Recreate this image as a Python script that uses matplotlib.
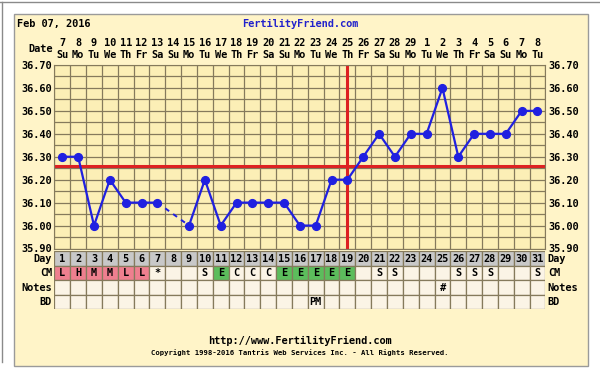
import matplotlib.pyplot as plt
import matplotlib.transforms as mtransforms
from matplotlib.patches import Rectangle
from matplotlib.lines import Line2D
import numpy as np

# chart data
days = list(range(1, 32))
dates = [7, 8, 9, 10, 11, 12, 13, 14, 15, 16, 17, 18, 19, 20, 21, 22, 23, 24, 25,
         26, 27, 28, 29, 1, 2, 3, 4, 5, 6, 7, 8]
weekdays = ["Su", "Mo", "Tu", "We", "Th", "Fr", "Sa"] * 4 + ["Su", "Mo", "Tu"]
temps = [36.30, 36.30, 36.00, 36.20, 36.10, 36.10, 36.10, np.nan, 36.00, 36.20,
         36.00, 36.10, 36.10, 36.10, 36.10, 36.00, 36.00, 36.20, 36.20, 36.30,
         36.40, 36.30, 36.40, 36.40, 36.60, 36.30, 36.40, 36.40, 36.40, 36.50, 36.50]
coverline = 36.26
ovulation_day = 19
cm = ["L", "H", "M", "M", "L", "L", "*", "", "", "S", "E", "C", "C", "C", "E", "E",
      "E", "E", "E", "", "S", "S", "", "", "", "S", "S", "S", "", "", "S"]
notes = [""] * 24 + ["#"] + [""] * 6
bd = [""] * 16 + ["PM"] + [""] * 14
row_names = ["Day", "CM", "Notes", "BD"]

plt.rcParams["font.family"] = "DejaVu Sans Mono"
plt.rcParams["font.weight"] = "bold"

W, H = 600, 371
fx = lambda x: x / W
fy = lambda y: 1 - y / H

panel_c = "#FFF4C8"
grid_bg = "#FCEFB6"
grid_c = "#857a5c"
fs = 7.4

fig = plt.figure(figsize=(6, 3.71), dpi=100)
fig.patch.set_facecolor("white")
fig.patches.append(Rectangle((fx(14), fy(366)), (588 - 14) / W, (366 - 14) / H,
                             transform=fig.transFigure, fc=panel_c, ec="#9a9a9a", lw=1,
                             zorder=-5))
fig.lines.append(Line2D([0, 1], [fy(2), fy(2)], transform=fig.transFigure, color="#8a8a8a",
                        lw=1, zorder=-5))
fig.lines.append(Line2D([fx(1.5), fx(1.5)], [fy(2), fy(362)], transform=fig.transFigure,
                        color="#8a8a8a", lw=1, zorder=-5))

gx0, gx1 = 54.4, 545.4
ax = fig.add_axes([fx(gx0), fy(248.5), (gx1 - gx0) / W, (248.5 - 65) / H])
ax.set_xlim(0.5, 31.5)
ax.set_ylim(35.90, 36.70)
ax.set_facecolor(grid_bg)
for x in np.arange(0.5, 32):
    ax.axvline(x, color=grid_c, lw=0.9, zorder=1)
for y in np.arange(35.90, 36.71, 0.05):
    ax.axhline(y, color=grid_c, lw=0.9, zorder=1)
for s in ax.spines.values():
    s.set_color(grid_c)
ax.set_xticks([])
yt = np.arange(35.90, 36.71, 0.10)
ax.set_yticks(yt)
ax.set_yticklabels([f"{v:.2f}" for v in yt])
ax.tick_params(axis="y", length=0, labelright=True, pad=2, labelsize=fs)

ax.axhline(coverline, color="#dd2222", lw=2.2, zorder=2)
ax.axvline(ovulation_day, color="#dd2222", lw=2.2, zorder=2)

blue = "#2020e0"
ax.plot(days, temps, color=blue, lw=1.6, marker="o", ms=5.6, zorder=4)
t = np.array(temps)
for i in range(1, len(t) - 1):
    if np.isnan(t[i]) and not np.isnan(t[i - 1]):
        j = i
        while np.isnan(t[j]):
            j += 1
        ax.plot([days[i - 1], days[j]], [t[i - 1], t[j]], color=blue, lw=1.4,
                ls=(0, (2.5, 2.5)), zorder=3)

# header
trans = mtransforms.blended_transform_factory(ax.transData, fig.transFigure)
for d, dt, wd in zip(days, dates, weekdays):
    ax.text(d, fy(43), str(dt), transform=trans, ha="center", va="center", fontsize=fs)
    ax.text(d, fy(55), wd, transform=trans, ha="center", va="center", fontsize=fs)
fig.text(fx(53), fy(49), "Date", ha="right", va="center", fontsize=fs)
fig.text(fx(17), fy(24), "Feb 07, 2016", ha="left", va="center", fontsize=fs)
fig.text(0.5, fy(24), "FertilityFriend.com", ha="center", va="center", fontsize=fs,
         color="#2222cc")

# table rows
tax = fig.add_axes([fx(gx0), fy(309), (gx1 - gx0) / W, (309 - 251) / H])
tax.set_xlim(0.5, 31.5)
tax.set_ylim(4, 0)
tax.axis("off")
cm_cols = {"L": "#ef7f8f", "H": "#ef7f8f", "M": "#ef7f8f", "E": "#5cbd5c"}
rows = [[str(d) for d in days], cm, notes, bd]
for r, vals in enumerate(rows):
    if r == 0:
        cols = ["#c8c8c8"] * 31
    elif r == 1:
        cols = [cm_cols.get(v, "#fbf4e6") for v in vals]
    else:
        cols = ["#fbf4e6"] * 31
    tax.bar(days, 1, bottom=r, width=1, color=cols, edgecolor=grid_c, lw=0.9)
    for d, v in zip(days, vals):
        if v:
            tax.text(d, r + 0.55, v, ha="center", va="center", fontsize=fs)
    tax.text(0.35, r + 0.55, row_names[r], ha="right", va="center", fontsize=fs)
    tax.text(31.65, r + 0.55, row_names[r], ha="left", va="center", fontsize=fs)

fig.text(0.5, fy(341), "http://www.FertilityFriend.com", ha="center", va="center", fontsize=fs)
fig.text(0.5, fy(353), "Copyright 1998-2016 Tantris Web Services Inc. - All Rights Reserved.",
         ha="center", va="center", fontsize=5.2)

fig.savefig("out.png", dpi=100)
